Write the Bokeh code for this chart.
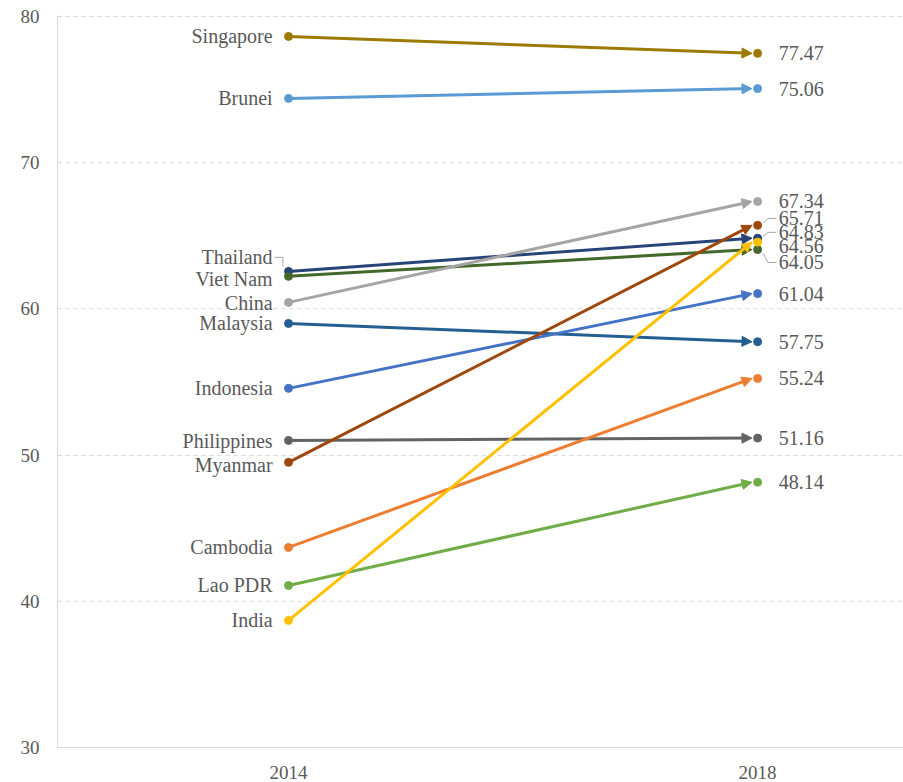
from bokeh.plotting import figure
from bokeh.models import (ColumnDataSource, Range1d, FixedTicker, Arrow, NormalHead)
from bokeh.core.properties import value
from bokeh.embed import file_html
from bokeh.resources import INLINE

countries = ["Singapore", "Brunei", "Thailand", "Viet Nam", "China", "Malaysia",
             "Indonesia", "Philippines", "Myanmar", "Cambodia", "Lao PDR", "India"]
v2014 = [78.63, 74.39, 62.56, 62.22, 60.44, 59.0, 54.56, 51.0, 49.5, 43.68, 41.08, 38.69]
v2018 = [77.47, 75.06, 64.83, 64.05, 67.34, 57.75, 61.04, 51.16, 65.71, 55.24, 48.14, 64.56]
colors = ["#9C7A00", "#5B9BD5", "#264478", "#43682B", "#A5A5A5", "#255E91",
          "#4472C4", "#636363", "#9E480E", "#ED7D31", "#70AD47", "#FFC000"]
years = ["2014", "2018"]
y_ticks = [30, 40, 50, 60, 70, 80]

# label nudges (data units) to avoid overlap
left_nudge = [0, 0, 0.96, -0.21, -0.07, 0, 0, -0.07, -0.21, 0, 0, 0]
right_nudge = [0, 0, 0.40, -0.88, 0, 0, 0, 0, 0.47, 0, 0, -0.29]
leader_left = [False, False, True, False, False, False, False, False, False, False, False, False]
leader_right = [False, False, True, True, False, False, False, False, True, False, False, False]

FONT = "Liberation Serif"
TXT = "#595959"

p = figure(width=903, height=782, output_backend="svg", toolbar_location=None,
           x_range=Range1d(-0.4925, 1.311), y_range=Range1d(30, 80.06),
           min_border_left=57, min_border_right=0, min_border_top=15, min_border_bottom=35)
p.outline_line_color = None
p.xgrid.grid_line_color = None
p.ygrid.grid_line_color = "#D9D9D9"
p.ygrid.grid_line_dash = "4 4"
p.ygrid.grid_line_width = 1

p.yaxis.ticker = FixedTicker(ticks=y_ticks)
p.xaxis.ticker = FixedTicker(ticks=[0, 1])
p.xaxis.major_label_overrides = {0: years[0], 1: years[1]}
for ax in (p.xaxis, p.yaxis):
    ax.axis_line_color = "#D9D9D9"
    ax.major_tick_line_color = None
    ax.minor_tick_line_color = None
    ax.major_label_text_font = FONT
    ax.major_label_text_color = TXT
    ax.major_label_text_font_size = "19px"
p.xaxis.major_label_standoff = 12
p.yaxis.major_label_standoff = 12

x0 = [0.0] * len(countries)
x1 = [1.0] * len(countries)

for i in range(len(countries)):
    c = colors[i]
    p.add_layout(Arrow(x_start=x0[i], y_start=v2014[i], x_end=x1[i] - 0.012, y_end=v2018[i],
                       line_color=c, line_width=3,
                       end=NormalHead(size=10, fill_color=c, line_color=c)))

src = ColumnDataSource(dict(x0=x0, x1=x1, y0=v2014, y1=v2018, color=colors,
                            name=countries,
                            val=[f"{v:.2f}" for v in v2018],
                            ly=[v + d for v, d in zip(v2014, left_nudge)],
                            ry=[v + d for v, d in zip(v2018, right_nudge)]))
p.scatter("x0", "y0", source=src, size=8, color="color")
p.scatter("x1", "y1", source=src, size=8, color="color")

p.text(x=-0.034, y="ly", text="name", source=src, text_font=value(FONT),
       text_font_size="20px", text_color=TXT, text_align="right", text_baseline="middle")
p.text(x=1.045, y="ry", text="val", source=src, text_font=value(FONT),
       text_font_size="20px", text_color=TXT, text_align="left", text_baseline="middle")

# leader lines
for i in range(len(countries)):
    if leader_left[i]:
        ly = v2014[i] + left_nudge[i]
        p.line([-0.030, -0.012, -0.012], [ly, ly, v2014[i] + 0.35], line_color="#A6A6A6", line_width=1)
    if leader_right[i]:
        ry = v2018[i] + right_nudge[i]
        p.line([1.012, 1.022, 1.040], [v2018[i] + right_nudge[i] * 0.3, ry, ry],
               line_color="#A6A6A6", line_width=1)

open("out.html", "w").write(file_html(p, INLINE))
